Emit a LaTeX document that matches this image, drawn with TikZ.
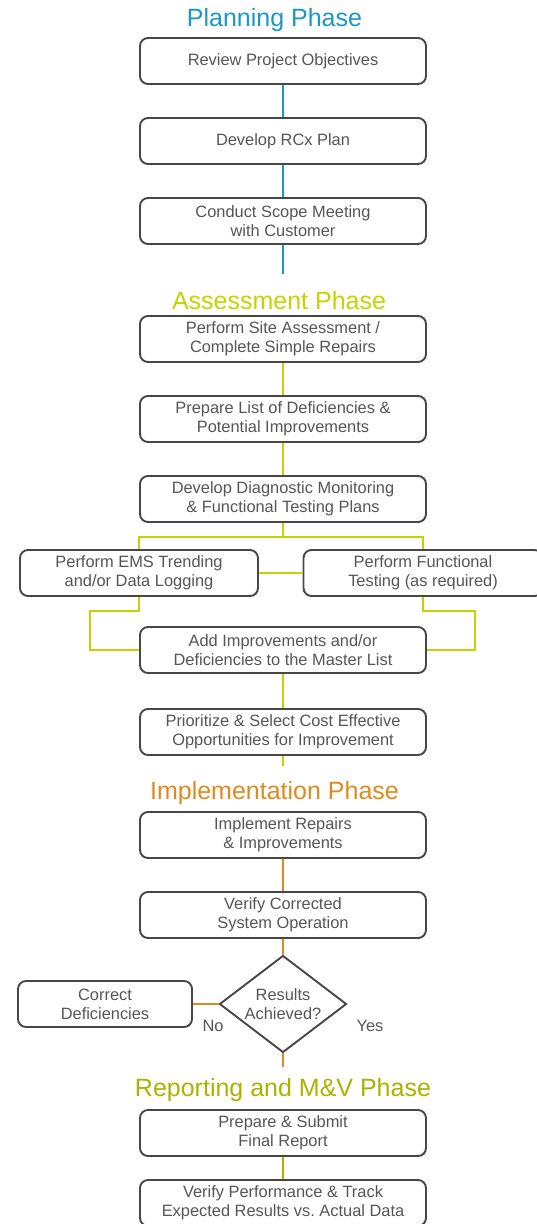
\documentclass[tikz,border=0pt]{standalone}
\usepackage{fontspec}
\setmainfont{Liberation Sans}
\usetikzlibrary{shapes.geometric}
\definecolor{cplan}{HTML}{1A98C8}
\definecolor{cassess}{HTML}{C2D500}
\definecolor{cimpl}{HTML}{E08A1E}
\definecolor{crep}{HTML}{A9B300}
\definecolor{cbord}{HTML}{474747}
\definecolor{ctext}{HTML}{555555}
\frenchspacing
\begin{document}
\begin{tikzpicture}[x=1pt,y=-1pt,
  box/.style={draw=cbord, line width=1.9pt, rounded corners=8pt, minimum width=286pt, minimum height=46pt, align=center, text=ctext, font=\fontsize{16.4}{19}\selectfont, inner sep=0pt},
  dec/.style={draw=cbord, line width=1.9pt, shape=diamond, aspect=1.306, minimum width=127pt, minimum height=97pt, align=center, text=ctext, font=\fontsize{16.4}{19}\selectfont, inner sep=0pt},
  title/.style={font=\fontsize{25}{30}\selectfont, inner sep=0pt},
  lbl/.style={text=ctext, font=\fontsize{16.4}{19}\selectfont, inner sep=0pt},
  conn/.style={line width=2pt}]
\useasboundingbox (0,0) rectangle (536,1224);
% titles
\node[title, text=cplan] (t1) at (274.5,20.5) {Planning Phase};
\node[title, text=cassess] (t2) at (279,301) {Assessment Phase};
\node[title, text=cimpl] (t3) at (274.5,793) {Implementation Phase};
\node[title, text=crep] (t4) at (283,1090) {Reporting and M\&V Phase};
% boxes
\node[box] (b1) at (283,61) {Review Project Objectives};
\node[box] (b2) at (283,141) {Develop RCx Plan};
\node[box] (b3) at (283,221) {Conduct Scope Meeting\\with Customer};
\node[box] (b4) at (283,339) {Perform Site Assessment /\\Complete Simple Repairs};
\node[box] (b5) at (283,419) {Prepare List of Deficiencies \&\\Potential Improvements};
\node[box] (b6) at (283,499) {Develop Diagnostic Monitoring\\\& Functional Testing Plans};
\node[box, minimum width=238pt] (bl) at (139,573) {Perform EMS Trending\\and/or Data Logging};
\node[box, minimum width=239pt] (br) at (423,573) {Perform Functional\\Testing (as required)};
\node[box] (b7) at (283,650) {Add Improvements and/or\\Deficiencies to the Master List};
\node[box] (b8) at (283,732) {Prioritize \& Select Cost Effective\\Opportunities for Improvement};
\node[box] (b9) at (283,835) {Implement Repairs\\\& Improvements};
\node[box] (b10) at (283,915) {Verify Corrected\\System Operation};
\node[dec] (dia) at (283,1004) {Results\\Achieved?};
\node[box, minimum width=174pt] (cd) at (105,1004) {Correct\\Deficiencies};
\node[lbl] (no) at (213,1026) {No};
\node[lbl] (yes) at (370,1026) {Yes};
\node[box] (b11) at (283,1133) {Prepare \& Submit\\Final Report};
\node[box] (b12) at (283,1203) {Verify Performance \& Track\\Expected Results vs.\ Actual Data};
% coordinates
\coordinate (p1) at (283,274);
\coordinate (j1) at (283,537);
\coordinate (la) at (90,611);
\coordinate (ra) at (475,611);
\coordinate (p2) at (283,766);
\coordinate (p3) at (283,1067);
% planning connectors
\draw[conn, cplan] (b1) -- (b2);
\draw[conn, cplan] (b2) -- (b3);
\draw[conn, cplan] (b3) -- (p1);
% assessment connectors
\draw[conn, cassess] (b4) -- (b5);
\draw[conn, cassess] (b5) -- (b6);
\draw[conn, cassess] (b6) -- (j1);
\draw[conn, cassess] (bl.north) |- (j1) -| (br.north);
\draw[conn, cassess] (bl) -- (br);
\draw[conn, cassess] (bl.south) |- (la) |- (b7.west);
\draw[conn, cassess] (br.south) |- (ra) |- (b7.east);
\draw[conn, cassess] (b7) -- (b8);
\draw[conn, cassess] (b8) -- (p2);
% implementation connectors
\draw[conn, cimpl] (b9) -- (b10);
\draw[conn, cimpl] (b10) -- (dia);
\draw[conn, cimpl] (dia.west) -- (cd.east);
\draw[conn, cimpl] (dia.south) -- (p3);
% reporting connectors
\draw[conn, crep] (b11) -- (b12);
\end{tikzpicture}
\end{document}
